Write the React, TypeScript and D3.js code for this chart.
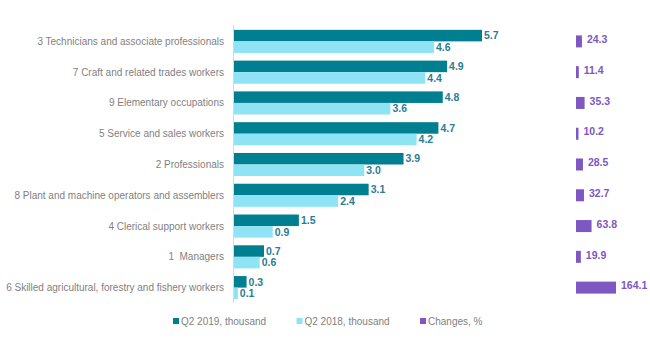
import React from "react";
import * as d3 from "d3";

const categories = [
  "3 Technicians and associate professionals",
  "7 Craft and related trades workers",
  "9 Elementary occupations",
  "5 Service and sales workers",
  "2 Professionals",
  "8 Plant and machine operators and assemblers",
  "4 Clerical support workers",
  "1  Managers",
  "6 Skilled agricultural, forestry and fishery workers",
];
const q2019 = [5.7, 4.9, 4.8, 4.7, 3.9, 3.1, 1.5, 0.7, 0.3];
const q2018 = [4.6, 4.4, 3.6, 4.2, 3.0, 2.4, 0.9, 0.6, 0.1];
const changes = [24.3, 11.4, 35.3, 10.2, 28.5, 32.7, 63.8, 19.9, 164.1];

const legendItems = [
  { label: "Q2 2019, thousand", color: "#007f91" },
  { label: "Q2 2018, thousand", color: "#8ee3f5" },
  { label: "Changes, %", color: "#7e57c2" },
];

const W = 650;
const H = 350;
const font = "'Liberation Sans', Arial, sans-serif";

export default function App() {
  const axisX = 233.5;
  const y = d3.scaleBand<string>().domain(categories).range([26, 303]).paddingInner(0.25).paddingOuter(0.125);
  const x = d3.scaleLinear().domain([0, 5.7]).range([axisX, 482]);
  const xc = d3.scaleLinear().domain([0, 164.1]).range([576, 616]);
  const bh = y.bandwidth() / 2;

  return (
    <div style={{ width: W, height: H, position: "absolute", left: 0, top: 0, background: "#fff" }}>
      <svg width={W} height={H} style={{ display: "block" }} fontFamily={font}>
        {categories.map((c, i) => {
          const y0 = y(c)!;
          const mid = y0 + bh;
          return (
            <g key={c}>
              <text x={224} y={mid} dy="0.35em" textAnchor="end" fontSize={10} fill="#7f7f7f" style={{ whiteSpace: "pre" }}>
                {c}
              </text>
              <rect x={axisX} y={y0} width={x(q2019[i]) - axisX} height={bh} fill="#007f91" />
              <rect x={axisX} y={mid} width={x(q2018[i]) - axisX} height={bh} fill="#8ee3f5" />
              <text x={x(q2019[i]) + 2} y={y0 + bh / 2} dy="0.35em" fontSize={10.5} fontWeight="bold" fill="#2a7d93">
                {q2019[i].toFixed(1)}
              </text>
              <text x={x(q2018[i]) + 2} y={mid + bh / 2} dy="0.35em" fontSize={10.5} fontWeight="bold" fill="#2a7d93">
                {q2018[i].toFixed(1)}
              </text>
              <rect x={xc(0)} y={mid - 6} width={xc(changes[i]) - xc(0)} height={12} fill="#7e57c2" />
              <text x={xc(changes[i]) + 5} y={mid - 2} dy="0.35em" fontSize={10.5} fontWeight="bold" fill="#7e57c2">
                {changes[i].toFixed(1)}
              </text>
            </g>
          );
        })}
        <line x1={axisX} x2={axisX} y1={25} y2={303} stroke="#d9d9d9" strokeWidth={1} />
        {legendItems.map((d, i) => {
          const lx = 173 + i * 123.5;
          return (
            <g key={d.label} transform={`translate(${lx},321)`}>
              <rect x={0} y={-3} width={6} height={6} fill={d.color} />
              <text x={8} y={0} dy="0.35em" fontSize={10} fill="#7f7f7f">
                {d.label}
              </text>
            </g>
          );
        })}
      </svg>
    </div>
  );
}
